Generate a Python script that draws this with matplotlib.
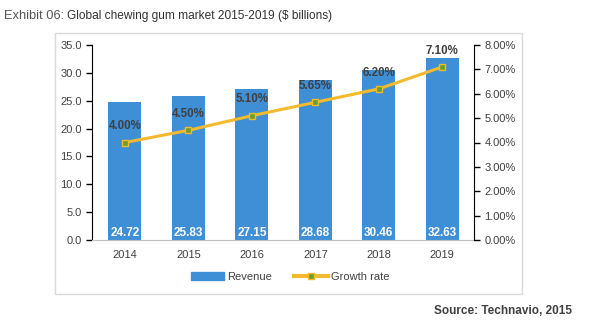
import matplotlib
matplotlib.use("Agg")
import matplotlib.pyplot as plt
from matplotlib.patches import Rectangle
from matplotlib.ticker import FuncFormatter

years = ["2014", "2015", "2016", "2017", "2018", "2019"]
revenue = [24.72, 25.83, 27.15, 28.68, 30.46, 32.63]
growth = [4.00, 4.50, 5.10, 5.65, 6.20, 7.10]

bar_color = "#3F8FD6"
line_color = "#F2BA2C"
marker_color = "#6A9E2A"
text_color = "#404040"

plt.rcParams["font.family"] = ["Liberation Sans", "DejaVu Sans"]

fig = plt.figure(figsize=(5.92, 3.34), dpi=100)
W, H = 592, 334

# chart frame
fig.patches.append(Rectangle((55 / W, 1 - 294 / H), (522 - 55) / W, (294 - 33) / H,
                             transform=fig.transFigure, fill=False,
                             edgecolor="#D9D9D9", linewidth=1))

ax = fig.add_axes([92 / W, 1 - 240 / H, (474 - 92) / W, (240 - 45) / H])
x = range(len(years))
ax.bar(x, revenue, width=0.52, color=bar_color, zorder=2)
ax.set_ylim(0, 35)
ax.set_xlim(-0.52, 5.5)
ax.set_yticks([i * 5 for i in range(8)])
ax.yaxis.set_major_formatter(FuncFormatter(lambda v, p: f"{v:.1f}"))
ax.set_xticks(list(x))
ax.set_xticklabels(years)
ax.tick_params(axis="x", length=0, pad=7, labelsize=8, colors=text_color)
ax.tick_params(axis="y", length=4, width=1, labelsize=8, colors=text_color)
ax.tick_params(axis="y", color="black")
for s in ["top", "right"]:
    ax.spines[s].set_visible(False)
ax.spines["bottom"].set_color("#BFBFBF")
ax.spines["left"].set_color("black")

for i, v in enumerate(revenue):
    ax.text(i, 1.3, f"{v:.2f}", ha="center", va="center", color="white",
            fontsize=8.5, fontweight="bold", zorder=4)

ax2 = ax.twinx()
ax2.set_ylim(0, 8)
ax2.set_yticks(range(9))
ax2.yaxis.set_major_formatter(FuncFormatter(lambda v, p: f"{v:.2f}%"))
ax2.tick_params(axis="y", length=4, width=1, labelsize=8, labelcolor=text_color)
for s in ["top", "left", "bottom"]:
    ax2.spines[s].set_visible(False)
ax2.spines["right"].set_color("black")
ax2.plot(list(x), growth, color=line_color, linewidth=2.2, marker="s",
         markersize=5, markerfacecolor=marker_color, markeredgecolor=line_color,
         markeredgewidth=1, zorder=3)
for i, g in enumerate(growth):
    ax2.text(i, g + 0.42, f"{g:.2f}%", ha="center", va="bottom", color=text_color,
             fontsize=8.3, fontweight="bold")

# legend
h1 = Rectangle((0, 0), 1, 1, color=bar_color)
h2 = plt.Line2D([], [], color=line_color, linewidth=3, marker="s", markersize=5,
                markerfacecolor=marker_color, markeredgecolor=line_color)
fig.legend([h1, h2], ["Revenue", "Growth rate"], loc="center",
           bbox_to_anchor=(290 / W, 1 - 277 / H), ncol=2, frameon=False,
           fontsize=8, handlelength=3, columnspacing=2, handletextpad=0.3,
           labelcolor=text_color)

fig.text(4 / W, 1 - 16 / H, "Exhibit 06:", fontsize=9.3, color="#555555",
         va="center", ha="left")
fig.text(67 / W, 1 - 16 / H, "Global chewing gum market 2015-2019 ($ billions)",
         fontsize=8.6, color="#333333", va="center", ha="left")
fig.text(572 / W, 1 - 311 / H, "Source: Technavio, 2015", fontsize=8.5,
         color=text_color, fontweight="bold", va="center", ha="right")

fig.savefig("out.png", dpi=100)
